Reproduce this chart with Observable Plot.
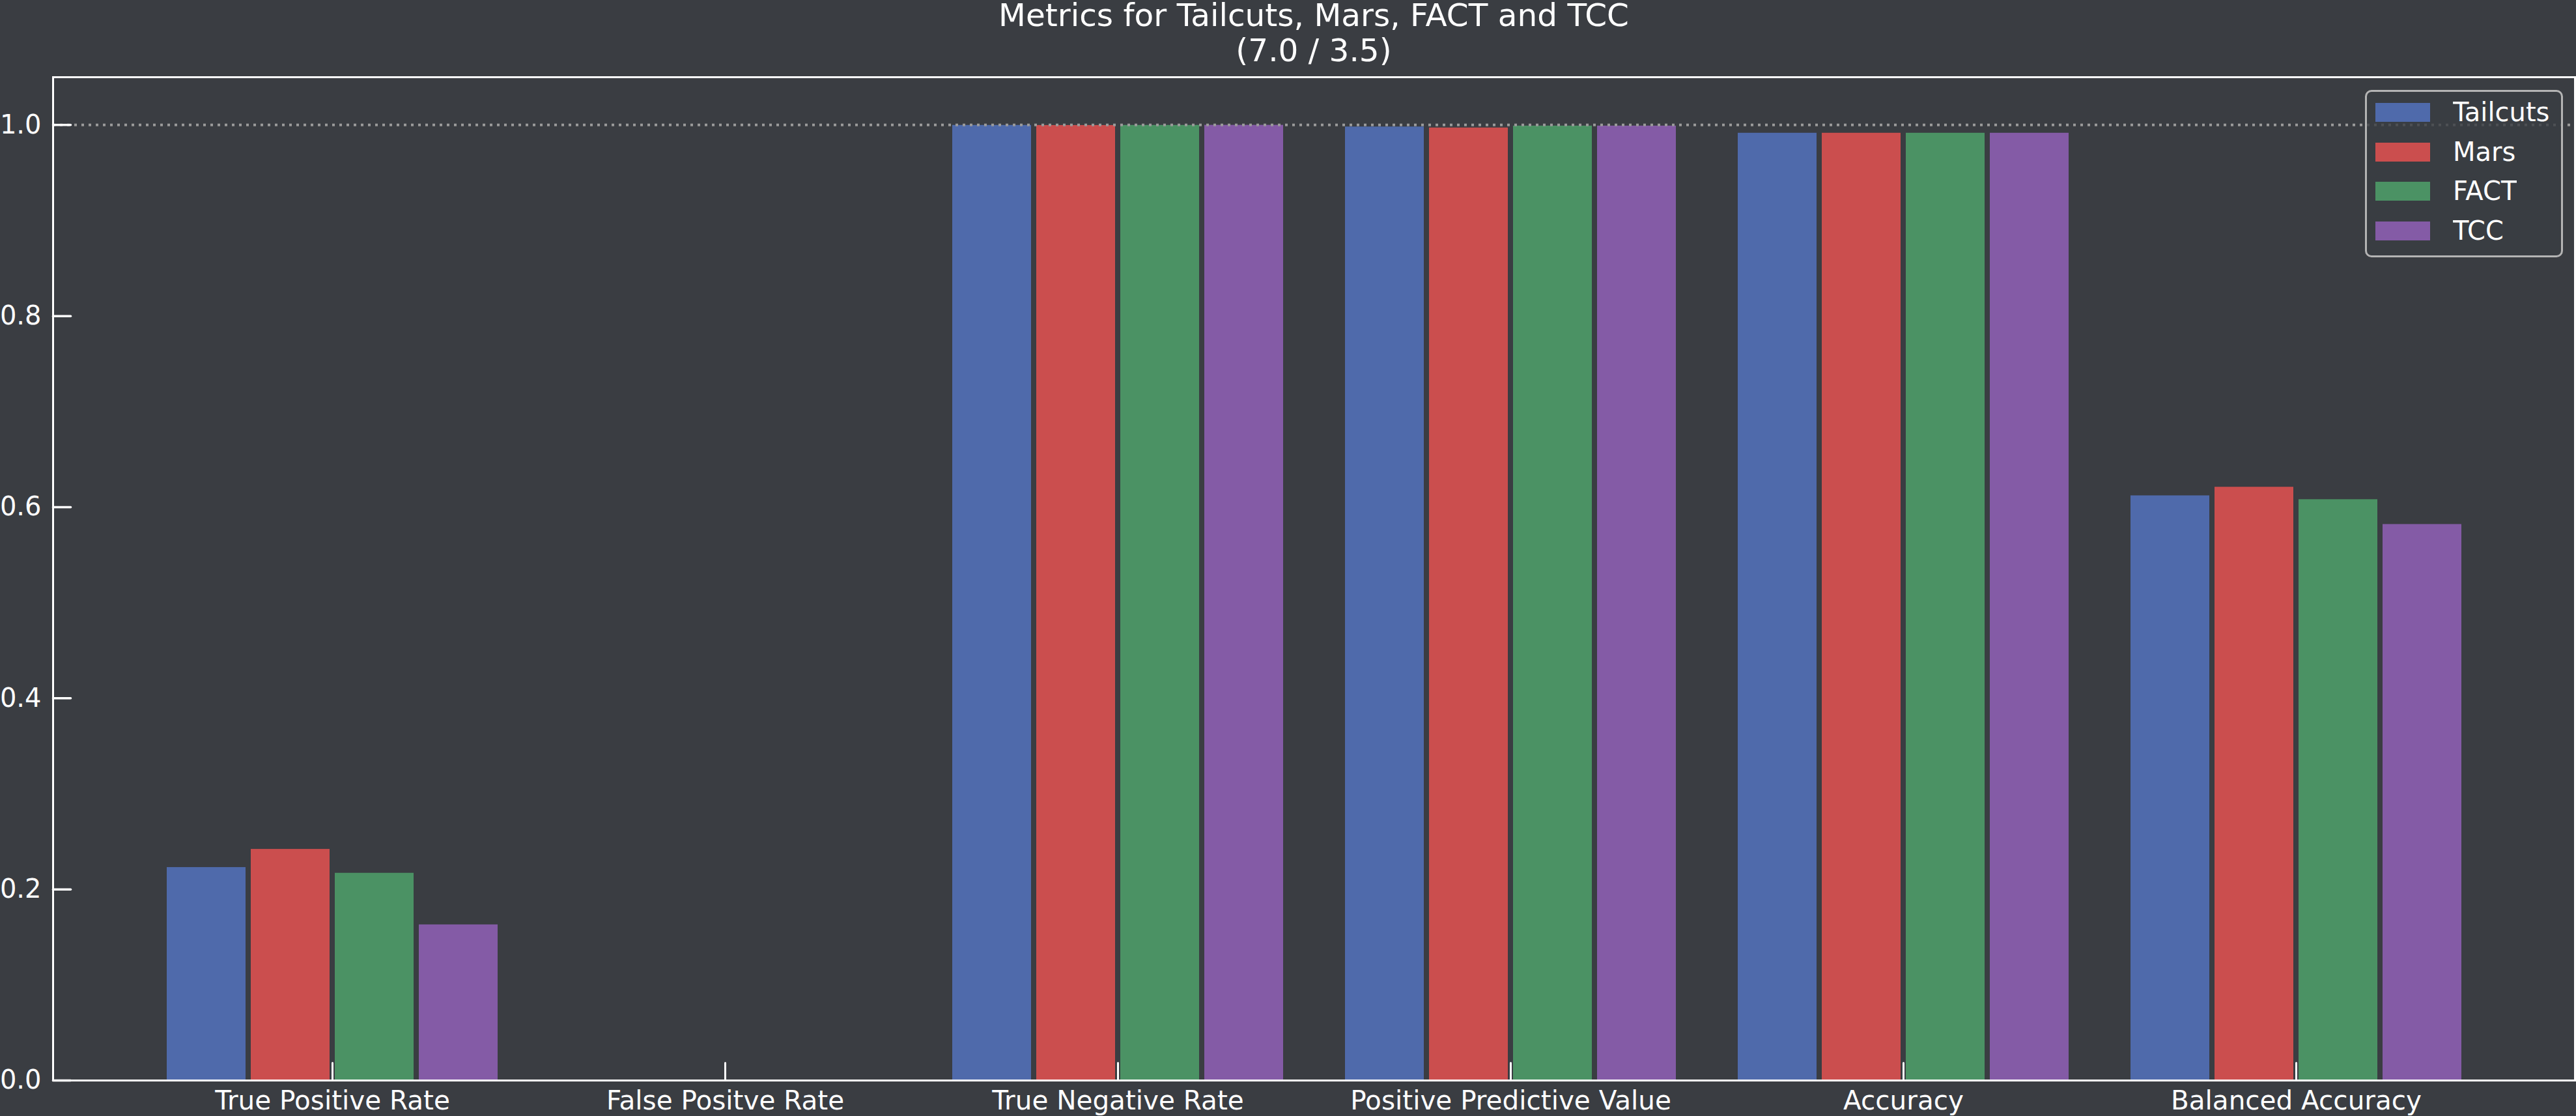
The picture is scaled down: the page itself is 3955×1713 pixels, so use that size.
<!DOCTYPE html>
<html>
<head>
<meta charset="utf-8">
<script src="https://cdn.jsdelivr.net/npm/d3@7"></script>
<script src="https://cdn.jsdelivr.net/npm/@observablehq/plot@0.6"></script>
<style>
  html, body { margin: 0; padding: 0; background: #3a3d42; overflow: hidden; }
  #wrap { position: relative; width: 3955px; height: 1713px; }
  #title { height: 107px; box-sizing: border-box; padding: 0 2px 0 81px; text-align: center; color: #fff;
           font-family: "DejaVu Sans"; font-size: 48.5px; line-height: 54px; position: relative; top: -4.5px; }
  #chart svg { display: block; }
  #legend { position: absolute; left: 3631px; top: 138px; width: 304px; height: 257px; box-sizing: border-box;
            border: 3px solid #b4b4b4; border-radius: 10px; background: rgba(58,61,66,0.8);
            padding: 1px 0 0 13px; color: #fff; font-family: "DejaVu Sans"; font-size: 40px; }
  #legend > div { margin: 0 !important; font-family: "DejaVu Sans" !important; font-size: 40px !important;
                  color: #fff !important; columns: auto !important; min-height: 0 !important; }
  #legend > div > div { height: 60.7px !important; padding: 0 !important; margin: 0 !important;
                        display: flex !important; align-items: center !important; line-height: 47px !important; }
  #legend > div > div > svg { margin-right: 35px !important; flex-shrink: 0; }
</style>
</head>
<body>
<div id="wrap">
  <div id="title"><div>Metrics for Tailcuts, Mars, FACT and TCC</div><div>(7.0 / 3.5)</div></div>
  <div id="chart"></div>
  <div id="legend"></div>
</div>
<script>
// ---- data ----
const metrics = ["True Positive Rate", "False Positve Rate", "True Negative Rate",
                 "Positive Predictive Value", "Accuracy", "Balanced Accuracy"];
const series = ["Tailcuts", "Mars", "FACT", "TCC"];
const tailcuts = [0.223, 0.0002, 0.9997, 0.998, 0.9915, 0.612];
const mars     = [0.242, 0.0002, 0.9996, 0.997, 0.9915, 0.621];
const fact     = [0.217, 0.0002, 0.9997, 0.999, 0.9915, 0.608];
const tcc      = [0.163, 0.0001, 0.9998, 0.999, 0.9915, 0.582];
const yTicks = [0.0, 0.2, 0.4, 0.6, 0.8, 1.0];
const colors = ["#4f6aab", "#cb4e4e", "#4b9264", "#845ba6"];

const values = [tailcuts, mars, fact, tcc];
const rows = series.flatMap((s, k) => metrics.map((m, i) => ({metric: m, series: s, value: values[k][i]})));

// ---- layout ----
const W = 3955, H = 1606;
const ml = 81, mr = 2, mt = 11, mb = 55;
const padIn = 0.1577, padOut = 0.2889, barGap = 8;
const step = (W - ml - mr) / (metrics.length - padIn + 2 * padOut);
const bw = step * (1 - padIn);
const slot = (bw + barGap) / series.length;

const tickV = {draw(ctx, l) { ctx.moveTo(0, 0); ctx.lineTo(0, -l); }};

const chart = Plot.plot({
  width: W, height: H,
  marginLeft: ml, marginRight: mr, marginTop: mt, marginBottom: mb,
  style: {background: "#3a3d42", color: "#fff", fontFamily: "DejaVu Sans"},
  x: {domain: metrics, paddingInner: padIn, paddingOuter: padOut, label: null, axis: null},
  y: {domain: [0, 1.05], label: null, axis: null},
  color: {domain: series, range: colors},
  marks: [
    ...series.map((s, k) => Plot.barY(rows.filter(d => d.series === s), {
      x: "metric", y: "value", fill: "series",
      insetLeft: k * slot, insetRight: (series.length - 1 - k) * slot
    })),
    Plot.ruleY([1], {stroke: "#9a9a9a", strokeWidth: 4, strokeDasharray: "4,7"}),
    Plot.frame({stroke: "#fff", strokeWidth: 3}),
    Plot.vector(yTicks, {y: d => d, frameAnchor: "left", length: 27, rotate: 90, anchor: "start",
                         shape: tickV, stroke: "#fff", strokeWidth: 3.5}),
    Plot.vector(metrics, {x: d => d, frameAnchor: "bottom", length: 27, rotate: 0, anchor: "start",
                          shape: tickV, stroke: "#fff", strokeWidth: 3}),
    Plot.axisY(yTicks, {tickSize: 0, tickPadding: 18, fontSize: 40, tickFormat: d3.format(".1f"), label: null, fill: "#fff"}),
    Plot.axisX({tickSize: 0, tickPadding: 15.5, fontSize: 40.5, label: null, fill: "#fff"})
  ]
});
document.getElementById("chart").appendChild(chart);

const legend = chart.legend("color", {columns: 1, swatchWidth: 84, swatchHeight: 29});
document.getElementById("legend").appendChild(legend);
</script>
</body>
</html>
